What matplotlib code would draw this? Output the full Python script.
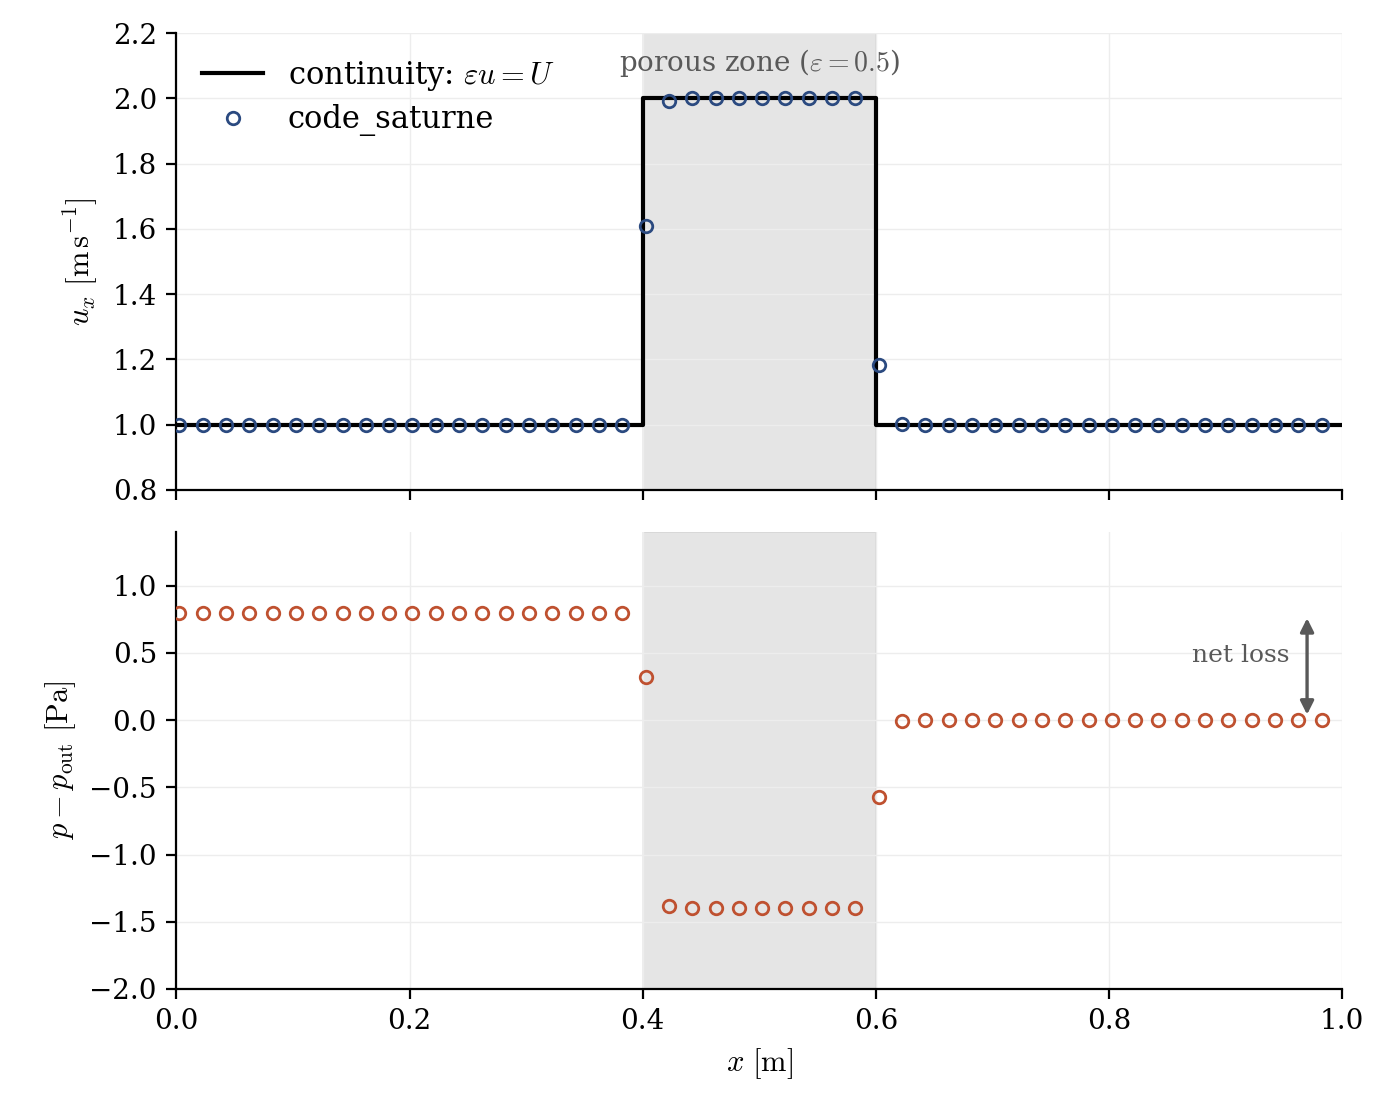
import matplotlib
matplotlib.use("Agg")
import matplotlib.pyplot as plt

plt.rcParams['font.family'] = ['DejaVu Serif']
plt.rcParams['mathtext.fontset'] = 'cm'
plt.rcParams['font.size'] = 10

# cell-centre sample positions (every 4th cell)
x_pts = [0.0025, 0.0225, 0.0425, 0.0625, 0.0825, 0.1025, 0.1225, 0.1425, 0.1625, 0.1825,
         0.2025, 0.2225, 0.2425, 0.2625, 0.2825, 0.3025, 0.3225, 0.3425, 0.3625, 0.3825,
         0.4025, 0.4225, 0.4425, 0.4625, 0.4825, 0.5025, 0.5225, 0.5425, 0.5625, 0.5825,
         0.6025, 0.6225, 0.6425, 0.6625, 0.6825, 0.7025, 0.7225, 0.7425, 0.7625, 0.7825,
         0.8025, 0.8225, 0.8425, 0.8625, 0.8825, 0.9025, 0.9225, 0.9425, 0.9625, 0.9825]
u_pts = [1.0, 1.0, 1.0, 1.0, 1.0, 1.0, 1.0, 1.0, 1.0, 1.0,
         1.0, 1.0, 1.0, 1.0, 1.0, 1.0, 1.0, 1.0, 1.0, 0.998,
         1.61, 1.992, 2.0, 2.0, 2.0, 2.0, 2.0, 2.0, 2.0, 2.0,
         1.184, 1.003, 1.0, 1.0, 1.0, 1.0, 1.0, 1.0, 1.0, 1.0,
         1.0, 1.0, 1.0, 1.0, 1.0, 1.0, 1.0, 1.0, 1.0, 1.0]
p_pts = [0.80, 0.80, 0.80, 0.80, 0.80, 0.80, 0.80, 0.80, 0.80, 0.80,
         0.80, 0.80, 0.80, 0.80, 0.80, 0.80, 0.80, 0.80, 0.80, 0.80,
         0.32, -1.38, -1.395, -1.395, -1.395, -1.395, -1.395, -1.395, -1.395, -1.395,
         -0.575, -0.005, 0.0, 0.0, 0.0, 0.0, 0.0, 0.0, 0.0, 0.0,
         0.0, 0.0, 0.0, 0.0, 0.0, 0.0, 0.0, 0.0, 0.0, 0.0]

# analytical continuity solution
x_exact = [0.0, 0.4, 0.4, 0.6, 0.6, 1.0]
u_exact = [1.0, 1.0, 2.0, 2.0, 1.0, 1.0]

zone = (0.4, 0.6)
blue = '#2b4a80'
orange = '#bf5130'

fig = plt.figure(figsize=(7, 5.6), dpi=200)
ax1 = fig.add_axes([0.126, 0.5625, 0.8326, 0.408])
ax2 = fig.add_axes([0.126, 0.117, 0.8326, 0.408], sharex=ax1)

for ax in (ax1, ax2):
    ax.axvspan(zone[0], zone[1], facecolor='0.5', alpha=0.2, edgecolor='0.6', lw=0.6, zorder=0)
    ax.grid(True, color='0.93', lw=0.5, zorder=0)
    ax.spines['top'].set_visible(False)
    ax.spines['right'].set_visible(False)
    ax.set_axisbelow(True)

ax1.plot(x_exact, u_exact, color='black', lw=1.5, label=r'continuity: $\varepsilon u = U$', zorder=3)
ax1.plot(x_pts, u_pts, 'o', mfc='none', mec=blue, mew=1.0, ms=4.5, label='code_saturne', zorder=4)
ax1.set_ylim(0.8, 2.2)
ax1.set_xlim(0, 1)
ax1.set_ylabel(r'$u_x\ [\mathrm{m\,s^{-1}}]$', fontsize=11)
ax1.tick_params(labelbottom=False)
ax1.legend(loc='upper left', frameon=False, fontsize=11, handlelength=2.0,
           labelspacing=0.37, borderaxespad=0.45)
ax1.text(0.5, 2.107, r'porous zone ($\varepsilon = 0.5$)', ha='center', va='center',
         color='0.35', fontsize=10)

ax2.plot(x_pts, p_pts, 'o', mfc='none', mec=orange, mew=1.0, ms=4.5, zorder=4)
ax2.set_ylim(-2.0, 1.4)
ax2.set_yticks([-2.0, -1.5, -1.0, -0.5, 0.0, 0.5, 1.0])
ax2.set_xlim(0, 1)
ax2.set_xticks([0.0, 0.2, 0.4, 0.6, 0.8, 1.0])
ax2.set_ylabel(r'$p - p_{\mathrm{out}}\ [\mathrm{Pa}]$', fontsize=11)
ax2.set_xlabel(r'$x\ [\mathrm{m}]$', fontsize=11)
ax2.annotate('', xy=(0.97, 0.0), xytext=(0.97, 0.8),
             arrowprops=dict(arrowstyle='<|-|>', color='0.35', lw=1.2, mutation_scale=10))
ax2.text(0.955, 0.48, 'net loss', ha='right', va='center', color='0.35', fontsize=9)

fig.savefig('out.png', dpi=200)
